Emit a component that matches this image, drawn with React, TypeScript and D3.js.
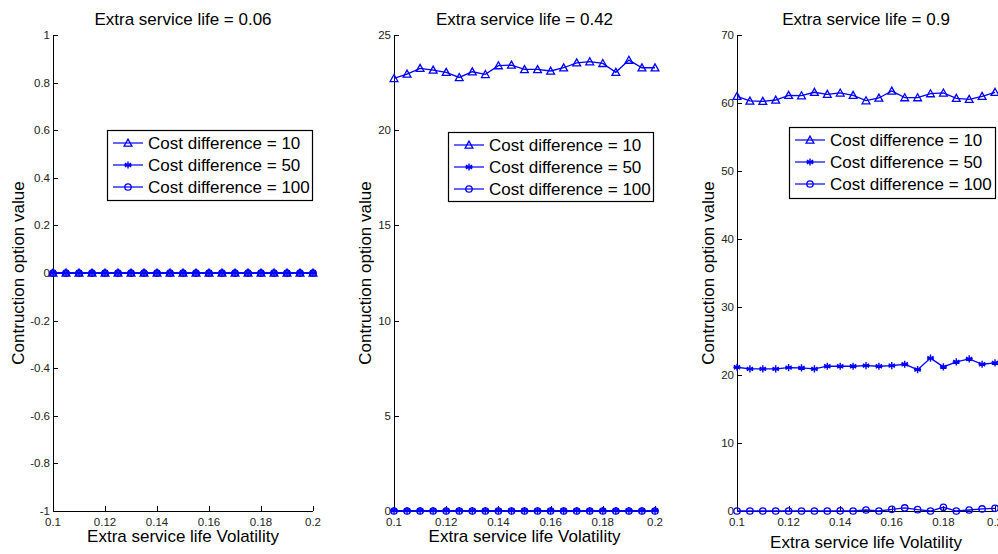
import React from 'react';
import * as d3 from 'd3';

const volatility = [0.1, 0.105, 0.11, 0.115, 0.12, 0.125, 0.13, 0.135, 0.14, 0.145, 0.15, 0.155, 0.16, 0.165, 0.17, 0.175, 0.18, 0.185, 0.19, 0.195, 0.2];
const panelTitles = ['Extra service life = 0.06', 'Extra service life = 0.42', 'Extra service life = 0.9'];
const seriesNames = ['Cost difference = 10', 'Cost difference = 50', 'Cost difference = 100'];
const markerKinds = ['triangle', 'star', 'circle'];

// Panel 1 (extra service life = 0.06)
const p1Cost10 = [0, 0, 0, 0, 0, 0, 0, 0, 0, 0, 0, 0, 0, 0, 0, 0, 0, 0, 0, 0, 0];
const p1Cost50 = [0, 0, 0, 0, 0, 0, 0, 0, 0, 0, 0, 0, 0, 0, 0, 0, 0, 0, 0, 0, 0];
const p1Cost100 = [0, 0, 0, 0, 0, 0, 0, 0, 0, 0, 0, 0, 0, 0, 0, 0, 0, 0, 0, 0, 0];
// Panel 2 (extra service life = 0.42)
const p2Cost10 = [22.72, 22.95, 23.25, 23.16, 23.04, 22.77, 23.07, 22.93, 23.39, 23.42, 23.19, 23.19, 23.11, 23.28, 23.54, 23.6, 23.51, 23.04, 23.68, 23.28, 23.28];
const p2Cost50 = [0.02, 0.02, 0.02, 0.02, 0.02, 0.02, 0.02, 0.02, 0.02, 0.02, 0.02, 0.02, 0.02, 0.02, 0.02, 0.02, 0.02, 0.02, 0.02, 0.02, 0.02];
const p2Cost100 = [0, 0, 0, 0, 0, 0, 0, 0, 0, 0, 0, 0, 0, 0, 0, 0, 0, 0, 0, 0, 0];
// Panel 3 (extra service life = 0.9)
const p3Cost10 = [60.99, 60.3, 60.25, 60.44, 61.13, 61.08, 61.58, 61.28, 61.48, 61.13, 60.34, 60.74, 61.77, 60.79, 60.79, 61.38, 61.48, 60.69, 60.54, 60.99, 61.58];
const p3Cost50 = [21.14, 20.89, 20.89, 20.89, 21.09, 21.04, 20.89, 21.29, 21.29, 21.29, 21.39, 21.29, 21.39, 21.58, 20.79, 22.48, 21.19, 21.93, 22.38, 21.58, 21.78];
const p3Cost100 = [0, 0, 0, 0, 0, 0, 0, 0, 0.02, 0, 0.15, 0, 0.25, 0.45, 0.2, 0, 0.55, 0, 0.15, 0.3, 0.4];

const xTicks = [0.1, 0.12, 0.14, 0.16, 0.18, 0.2];
const yTicks1 = [-1, -0.8, -0.6, -0.4, -0.2, 0, 0.2, 0.4, 0.6, 0.8, 1];
const yTicks2 = [0, 5, 10, 15, 20, 25];
const yTicks3 = [0, 10, 20, 30, 40, 50, 60, 70];
const yDomains = [[-1, 1], [0, 25], [0, 70]];
const yLabel = 'Contruction option value';
const xLabel = 'Extra service life Volatility';

const panelSeries = [
  [p1Cost10, p1Cost50, p1Cost100],
  [p2Cost10, p2Cost50, p2Cost100],
  [p3Cost10, p3Cost50, p3Cost100],
];
const panelYTicks = [yTicks1, yTicks2, yTicks3];

// layout
const W = 998, H = 554;
const layout = [
  { left: 53, width: 260, ylabX: 18, xlabY: 542, legend: { x: 107, y: 130, w: 205, h: 70 } },
  { left: 394, width: 261, ylabX: 365, xlabY: 542, legend: { x: 448, y: 132, w: 205, h: 69 } },
  { left: 737, width: 258, ylabX: 708, xlabY: 548, legend: { x: 789, y: 127, w: 206, h: 71 } },
];
const TOP = 35, BOTTOM = 511;
const BLUE = '#0000ff';
const FONT = 'Liberation Sans, Arial, Helvetica, sans-serif';

function Marker({ kind, x, y }: { kind: string; x: number; y: number }) {
  if (kind === 'triangle') {
    const s = 3.9;
    return <path d={`M${x},${y - s}L${x + s},${y + s * 0.8}L${x - s},${y + s * 0.8}Z`} fill="none" stroke={BLUE} strokeWidth={1.3} />;
  }
  if (kind === 'star') {
    const r = 3.6;
    const d = [0, 60, 120].map((a) => {
      const rad = (a * Math.PI) / 180;
      const dx = Math.sin(rad) * r, dy = Math.cos(rad) * r;
      return `M${x - dx},${y - dy}L${x + dx},${y + dy}`;
    }).join('') + `M${x - r},${y}L${x + r},${y}`;
    return <path d={d} fill="none" stroke={BLUE} strokeWidth={1.4} />;
  }
  return <circle cx={x} cy={y} r={3.2} fill="none" stroke={BLUE} strokeWidth={1.3} />;
}

function fmt(v: number) {
  return String(Math.round(v * 1000) / 1000);
}

function Panel({ idx }: { idx: number }) {
  const L = layout[idx];
  const x = d3.scaleLinear().domain([0.1, 0.2]).range([L.left, L.left + L.width]);
  const y = d3.scaleLinear().domain(yDomains[idx]).range([BOTTOM, TOP]);
  const line = d3.line<number>().x((_, i) => x(volatility[i])).y((d) => y(d));
  const cx = L.left + L.width / 2;
  const lg = L.legend;
  return (
    <g>
      <text x={cx} y={25} textAnchor="middle" fontSize={17} fontFamily={FONT} fill="#000">{panelTitles[idx]}</text>
      {/* axes */}
      <line x1={L.left + 0.5} x2={L.left + 0.5} y1={TOP} y2={BOTTOM + 0.5} stroke="#000" strokeWidth={1} />
      <line x1={L.left} x2={L.left + L.width} y1={BOTTOM + 0.5} y2={BOTTOM + 0.5} stroke="#000" strokeWidth={1} />
      {panelYTicks[idx].map((t) => (
        <g key={'y' + t}>
          <line x1={L.left} x2={L.left + 5} y1={Math.round(y(t)) + 0.5} y2={Math.round(y(t)) + 0.5} stroke="#000" />
          <text x={L.left - 3} y={y(t)} dy="0.35em" textAnchor="end" fontSize={11.5} fontFamily={FONT} fill="#222">{fmt(t)}</text>
        </g>
      ))}
      {xTicks.map((t) => (
        <g key={'x' + t}>
          <line x1={Math.round(x(t)) + 0.5} x2={Math.round(x(t)) + 0.5} y1={BOTTOM} y2={BOTTOM - 5} stroke="#000" />
          <text x={x(t)} y={BOTTOM + 15} textAnchor="middle" fontSize={11.5} fontFamily={FONT} fill="#222">{fmt(t)}</text>
        </g>
      ))}
      <text x={L.ylabX} y={(TOP + BOTTOM) / 2} transform={`rotate(-90 ${L.ylabX} ${(TOP + BOTTOM) / 2})`} dy="0.35em" textAnchor="middle" fontSize={17} fontFamily={FONT} fill="#000">{yLabel}</text>
      <text x={cx} y={L.xlabY} textAnchor="middle" fontSize={17} fontFamily={FONT} fill="#000">{xLabel}</text>
      {/* series */}
      {panelSeries[idx].map((s, si) => (
        <g key={'s' + si}>
          <path d={line(s) || ''} fill="none" stroke={BLUE} strokeWidth={1.3} />
          {s.map((v, i) => <Marker key={i} kind={markerKinds[si]} x={x(volatility[i])} y={y(v)} />)}
        </g>
      ))}
      {/* legend */}
      <rect x={lg.x + 0.5} y={lg.y + 0.5} width={lg.w} height={lg.h} fill="#fff" stroke="#000" strokeWidth={1.2} />
      {seriesNames.map((n, si) => {
        const ry = lg.y + 13 + si * 22;
        return (
          <g key={'l' + si}>
            <line x1={lg.x + 6} x2={lg.x + 36} y1={ry} y2={ry} stroke={BLUE} strokeWidth={1.2} />
            <Marker kind={markerKinds[si]} x={lg.x + 21} y={ry} />
            <text x={lg.x + 41} y={ry} dy="0.35em" fontSize={17} fontFamily={FONT} fill="#000">{n}</text>
          </g>
        );
      })}
    </g>
  );
}

export default function App() {
  return (
    <svg width={W} height={H} style={{ position: 'absolute', left: 0, top: 0, background: '#fff' }}>
      <rect width={W} height={H} fill="#fff" />
      <Panel idx={0} />
      <Panel idx={1} />
      <Panel idx={2} />
    </svg>
  );
}
